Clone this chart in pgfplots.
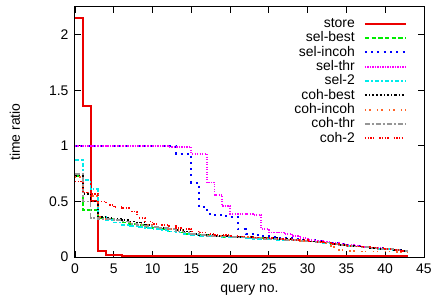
\documentclass[border=0pt]{standalone}
\usepackage{fontspec}
\setmainfont{Liberation Sans}
\usepackage{pgfplots}
\usepackage{pgfplotstable}
\pgfplotsset{compat=1.18}
\definecolor{cstore}{RGB}{235,0,0}
\definecolor{cgreen}{RGB}{0,235,0}
\definecolor{cblue}{RGB}{0,0,255}
\definecolor{cmag}{RGB}{255,0,255}
\definecolor{ccyan}{RGB}{0,235,235}
\definecolor{corange}{RGB}{255,100,40}
\definecolor{cgray}{RGB}{150,150,150}
\definecolor{cred}{RGB}{255,0,0}
\pgfplotstableread{
x  store selbest selincoh selthr seltwo cohbest cohincoh cohthr cohtwo
0  2.15  0.73   1.00   1.00   0.87   0.73   0.72   0.75   0.68
1  1.36  0.42   1.00   1.00   0.69   0.57   0.58   0.50   0.58
2  0.50  0.42   1.00   1.00   0.61   0.50   0.55   0.35   0.57
3  0.05  0.35   1.00   1.00   0.36   0.36   0.36   0.34   0.50
4  0.02  0.34   1.00   1.00   0.33   0.35   0.34   0.34   0.47
5  0.015 0.33   1.00   1.00   0.31   0.34   0.33   0.33   0.45
6  0.01  0.31   1.00   1.00   0.29   0.33   0.32   0.32   0.44
7  0.01  0.30   1.00   1.00   0.28   0.32   0.31   0.30   0.41
8  0.008 0.29   1.00   1.00   0.27   0.31   0.30   0.29   0.35
9  0.006 0.27   1.00   1.00   0.26   0.29   0.29   0.28   0.32
10 0.005 0.26   1.00   1.00   0.25   0.27   0.27   0.27   0.30
11 0.005 0.25   1.00   1.00   0.24   0.26   0.26   0.26   0.29
12 0.005 0.23   1.00   0.99   0.23   0.25   0.25   0.25   0.28
13 0.005 0.22   0.93   0.99   0.22   0.24   0.24   0.23   0.26
14 0.005 0.21   0.93   0.99   0.21   0.23   0.23   0.22   0.25
15 0.005 0.20   0.67   0.93   0.20   0.21   0.21   0.21   0.23
16 0.005 0.195  0.45   0.93   0.19   0.20   0.20   0.20   0.22
17 0.005 0.19   0.39   0.67   0.19   0.195  0.195  0.19   0.21
18 0.005 0.185  0.38   0.56   0.185  0.19   0.19   0.185  0.20
19 0.005 0.18   0.37   0.46   0.18   0.19   0.19   0.185  0.195
20 0.005 0.18   0.36   0.39   0.18   0.185  0.185  0.18   0.19
21 0.005 0.175  0.25   0.39   0.175  0.18   0.18   0.175  0.185
22 0.005 0.175  0.21   0.39   0.17   0.18   0.18   0.175  0.18
23 0.005 0.17   0.20   0.38   0.165  0.175  0.175  0.17   0.175
24 0.005 0.17   0.19   0.25   0.16   0.17   0.17   0.165  0.17
25 0.005 0.165  0.18   0.22   0.16   0.17   0.165  0.165  0.17
26 0.005 0.16   0.175  0.22   0.155  0.165  0.16   0.16   0.165
27 0.005 0.155  0.17   0.21   0.15   0.16   0.155  0.155  0.16
28 0.005 0.15   0.16   0.19   0.15   0.155  0.15   0.15   0.155
29 0.005 0.145  0.155  0.17   0.145  0.15   0.145  0.145  0.15
30 0.005 0.14   0.15   0.155  0.14   0.14   0.14   0.14   0.14
31 0.005 0.135  0.14   0.145  0.13   0.135  0.13   0.135  0.135
32 0.005 0.13   0.13   0.135  0.125  0.13   0.125  0.13   0.13
33 0.005 0.12   0.125  0.125  0.12   0.12   0.09   0.12   0.12
34 0.005 0.11   0.115  0.115  0.11   0.11   0.06   0.11   0.11
35 0.005 0.10   0.105  0.105  0.10   0.10   0.055  0.10   0.10
36 0.005 0.095  0.10   0.10   0.095  0.095  0.05   0.095  0.095
37 0.005 0.09   0.09   0.09   0.09   0.09   0.05   0.09   0.09
38 0.005 0.08   0.085  0.085  0.08   0.08   0.05   0.08   0.085
39 0.005 0.075  0.08   0.08   0.075  0.075  0.05   0.075  0.08
40 0.005 0.07   0.07   0.07   0.07   0.07   0.05   0.07   0.07
41 0.005 0.065  0.065  0.065  0.06   0.065  0.045  0.065  0.065
42 0.005 0.055  0.055  0.055  0.055  0.055  0.04   0.055  0.055
43 0.005 0.055  0.055  0.055  0.055  0.055  0.04   0.055  0.055
}\data
\begin{document}
\begin{tikzpicture}[font=\fontsize{14}{16}\selectfont]
\useasboundingbox (-75bp,-44bp) rectangle (360bp,257bp);
\begin{axis}[
  at={(0,0)}, anchor=south west,
  scale only axis, width=349bp, height=250bp,
  xmin=0, xmax=45, ymin=0, ymax=2.25,
  xtick={0,5,...,45}, ytick={0,0.5,1,1.5,2},
  tick align=inside, major tick length=6bp,
  axis line style={line width=1bp},
  every tick/.style={black, line width=0.8bp},
  /pgf/number format/assume math mode=true,
  ticklabel style={font=\fontsize{14}{16}\selectfont},
  xticklabel style={yshift=-3bp},
  yticklabel style={xshift=-3bp},
  xlabel={query no.}, ylabel={time ratio},
  xlabel style={at={(axis description cs:0.5,0)}, anchor=center, yshift=-33bp},
  ylabel style={at={(axis description cs:0,0.5)}, anchor=center, yshift=60bp},
  legend cell align=right,
  legend plot pos=right,
  legend image code/.code={\draw[#1] (0bp,0.5bp) -- (41bp,0.5bp);},
  legend style={draw=none, fill=none, at={(1,1)}, anchor=north east,
    xshift=-17bp, yshift=-10bp, inner sep=0pt, column sep=9bp, row sep=0pt,
    nodes={inner sep=0pt, text height=10.5bp, text depth=3.8bp,
      font=\fontsize{14}{16}\selectfont}},
]
\addplot[const plot, cstore, line width=2bp] table[x=x,y=store] {\data};
\addlegendentry{store}
\addplot[const plot, cgreen, line width=1.8bp, dash pattern=on 4.3bp off 2.4bp] table[x=x,y=selbest] {\data};
\addlegendentry{sel-best}
\addplot[const plot, cblue, line width=1.9bp, dash pattern=on 2bp off 4.3bp] table[x=x,y=selincoh] {\data};
\addlegendentry{sel-incoh}
\addplot[const plot, cmag, line width=1.8bp, dash pattern=on 1.2bp off 1.3bp] table[x=x,y=selthr] {\data};
\addlegendentry{sel-thr}
\addplot[const plot, ccyan, line width=1.8bp, dash pattern=on 4.5bp off 2bp on 1.5bp off 2bp] table[x=x,y=seltwo] {\data};
\addlegendentry{sel-2}
\addplot[const plot, black, line width=1.8bp, dash pattern=on 2.2bp off 2bp on 1.2bp off 2bp] table[x=x,y=cohbest] {\data};
\addlegendentry{coh-best}
\addplot[const plot, corange, line width=1.8bp, dash pattern=on 1.5bp off 2.7bp on 1.5bp off 6.3bp] table[x=x,y=cohincoh] {\data};
\addlegendentry{coh-incoh}
\addplot[const plot, cgray, line width=1.8bp, dash pattern=on 5bp off 2bp on 2bp off 2bp] table[x=x,y=cohthr] {\data};
\addlegendentry{coh-thr}
\addplot[const plot, cred, line width=1.8bp, dash pattern=on 1.3bp off 1.4bp on 1.3bp off 1.4bp on 1.3bp off 1.4bp on 1.3bp off 5bp] table[x=x,y=cohtwo] {\data};
\addlegendentry{coh-2}
\end{axis}
\end{tikzpicture}
\end{document}
